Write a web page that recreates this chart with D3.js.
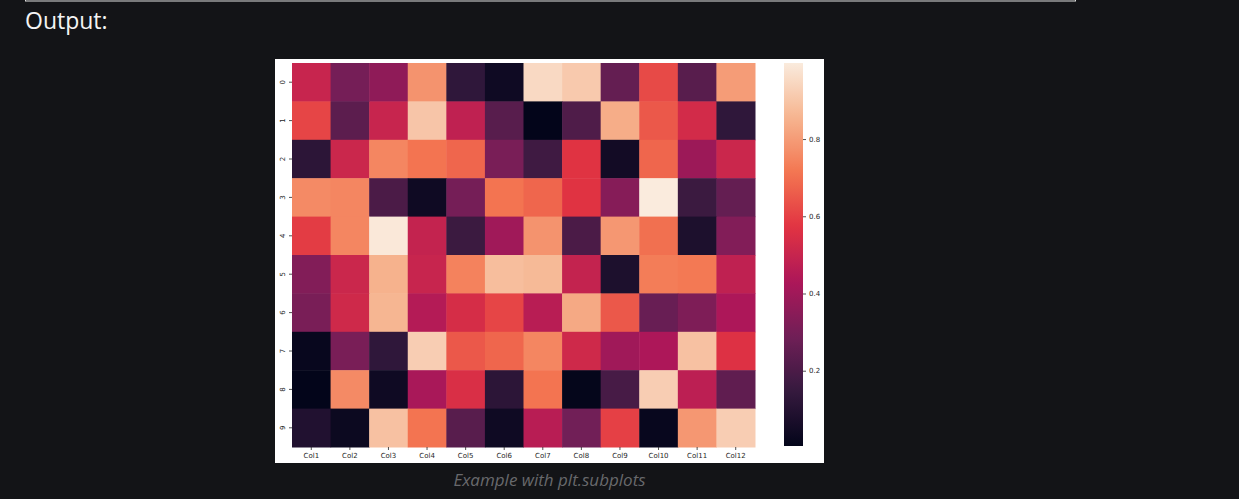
<!DOCTYPE html>
<html>
<head>
<meta charset="utf-8">
<script src="https://cdn.jsdelivr.net/npm/d3@7"></script>
<style>
  html, body { margin: 0; padding: 0; background: #131417; }
  svg { display: block; }
</style>
</head>
<body>
<div id="svg-container"></div>
<script>
// heatmap data
const rowLabels = ['0', '1', '2', '3', '4', '5', '6', '7', '8', '9'];
const colLabels = ['Col1', 'Col2', 'Col3', 'Col4', 'Col5', 'Col6', 'Col7', 'Col8', 'Col9', 'Col10', 'Col11', 'Col12'];
const cellValues = [
    [0.50, 0.30, 0.36, 0.78, 0.13, 0.04, 0.95, 0.91, 0.26, 0.62, 0.23, 0.80],
    [0.61, 0.24, 0.50, 0.90, 0.48, 0.23, 0.005, 0.21, 0.84, 0.65, 0.53, 0.13],
    [0.12, 0.51, 0.75, 0.71, 0.68, 0.31, 0.17, 0.57, 0.05, 0.68, 0.39, 0.51],
    [0.76, 0.75, 0.20, 0.04, 0.30, 0.71, 0.68, 0.57, 0.34, 0.997, 0.16, 0.26],
    [0.59, 0.75, 0.99, 0.49, 0.16, 0.40, 0.78, 0.20, 0.79, 0.70, 0.08, 0.33],
    [0.33, 0.51, 0.85, 0.50, 0.74, 0.88, 0.87, 0.49, 0.08, 0.73, 0.72, 0.48],
    [0.31, 0.52, 0.86, 0.45, 0.54, 0.61, 0.46, 0.83, 0.65, 0.27, 0.32, 0.43],
    [0.02, 0.31, 0.13, 0.92, 0.65, 0.68, 0.75, 0.52, 0.40, 0.43, 0.89, 0.56],
    [0.005, 0.76, 0.04, 0.42, 0.55, 0.12, 0.71, 0.01, 0.19, 0.92, 0.47, 0.25],
    [0.09, 0.03, 0.89, 0.71, 0.23, 0.04, 0.46, 0.29, 0.60, 0.02, 0.79, 0.92]
];
const colorbarTicks = [0.2, 0.4, 0.6, 0.8];

// seaborn "rocket" colormap stops
const rocketStops = ['#03051a', '#35193e', '#701f57', '#ad1759', '#e13342', '#f37651', '#f6b48f', '#faebdd'];

const params = {
    width: 1239,
    height: 499,
    figure: { x: 275, y: 59, width: 549, height: 404 },
    heat: { left: 292, right: 755, top: 63, bottom: 447 },
    colorbar: { left: 784, right: 803 },
    tickFont: '7px "DejaVu Sans", sans-serif',
    tickColor: '#262626'
};

const svg = d3.select('#svg-container')
    .append('svg')
    .attr('width', params.width)
    .attr('height', params.height);

// page decorations
svg.append('rect')
    .attr('x', 25.5).attr('y', -10)
    .attr('width', 1050).attr('height', 11)
    .attr('fill', 'none')
    .attr('stroke', '#e0e0e0')
    .attr('stroke-width', 1);

svg.append('text')
    .attr('x', 25).attr('y', 29)
    .attr('fill', '#f4f4f4')
    .style('font', '23px "Open Sans", Lato, sans-serif')
    .text('Output:');

svg.append('rect')
    .attr('x', params.figure.x).attr('y', params.figure.y)
    .attr('width', params.figure.width).attr('height', params.figure.height)
    .attr('fill', '#ffffff');

svg.append('text')
    .attr('x', params.figure.x + params.figure.width / 2)
    .attr('y', 486)
    .attr('text-anchor', 'middle')
    .attr('fill', '#68696c')
    .style('font', 'italic 17px "Open Sans", Lato, sans-serif')
    .text('Example with plt.subplots');

// scales
const allValues = [].concat(...cellValues);
const vmin = d3.min(allValues), vmax = d3.max(allValues);
const x = d3.scaleBand().domain(colLabels).range([params.heat.left, params.heat.right]);
const y = d3.scaleBand().domain(rowLabels).range([params.heat.top, params.heat.bottom]);
const color = d3.scaleSequential(d3.piecewise(d3.interpolateRgb, rocketStops)).domain([vmin, vmax]);
const cbY = d3.scaleLinear().domain([vmin, vmax]).range([params.heat.bottom - 1, params.heat.top]);

// cells
const cells = cellValues.flatMap((row, i) => row.map((v, j) => ({ row: rowLabels[i], col: colLabels[j], value: v })));
svg.append('g')
    .attr('class', 'cells')
    .selectAll('rect')
    .data(cells)
    .enter()
    .append('rect')
    .attr('x', d => x(d.col))
    .attr('y', d => y(d.row))
    .attr('width', x.bandwidth() + 0.5)
    .attr('height', y.bandwidth() + 0.5)
    .attr('fill', d => color(d.value));

const styleAxis = (g) => {
    g.select('.domain').remove();
    g.selectAll('line').attr('stroke', params.tickColor).attr('stroke-width', 0.8);
    g.selectAll('text').style('font', params.tickFont).attr('fill', params.tickColor);
};

// x axis
svg.append('g')
    .attr('transform', `translate(0, ${params.heat.bottom})`)
    .call(d3.axisBottom(x).tickSize(3).tickPadding(3))
    .call(styleAxis);

// y axis, labels rotated like matplotlib
svg.append('g')
    .attr('transform', `translate(${params.heat.left}, 0)`)
    .call(d3.axisLeft(y).tickSize(3).tickPadding(3))
    .call(styleAxis)
    .selectAll('text')
    .attr('x', -9)
    .attr('dy', null)
    .attr('text-anchor', 'middle')
    .attr('dominant-baseline', 'central')
    .attr('transform', function () {
        return `rotate(-90, ${d3.select(this).attr('x')}, 0)`;
    });

// colorbar
const grad = svg.append('defs')
    .append('linearGradient')
    .attr('id', 'cb-grad')
    .attr('x1', 0).attr('y1', 1).attr('x2', 0).attr('y2', 0);
grad.selectAll('stop')
    .data(d3.range(0, 1.0001, 0.02))
    .enter()
    .append('stop')
    .attr('offset', d => d)
    .attr('stop-color', d => color(vmin + d * (vmax - vmin)));

svg.append('rect')
    .attr('x', params.colorbar.left)
    .attr('y', cbY(vmax))
    .attr('width', params.colorbar.right - params.colorbar.left)
    .attr('height', cbY(vmin) - cbY(vmax))
    .attr('fill', 'url(#cb-grad)');

svg.append('g')
    .attr('transform', `translate(${params.colorbar.right}, 0)`)
    .call(d3.axisRight(cbY).tickValues(colorbarTicks).tickFormat(d3.format('.1f')).tickSize(3).tickPadding(3))
    .call(styleAxis);
</script>
</body>
</html>
